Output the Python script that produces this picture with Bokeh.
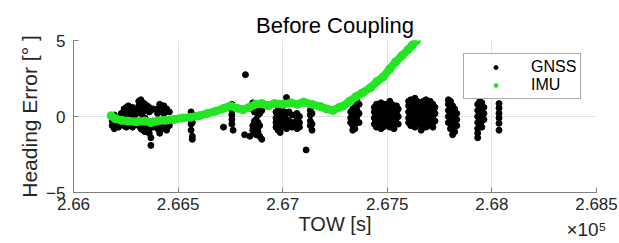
from bokeh.plotting import figure
from bokeh.models import (Range1d, FixedTicker, Legend, LegendItem, Title, ColumnDataSource)
from bokeh.embed import file_html
from bokeh.resources import INLINE

# ---------------- data ----------------
x_ticks = [2.66, 2.665, 2.67, 2.675, 2.68, 2.685]
x_tick_labels = ["2.66", "2.665", "2.67", "2.675", "2.68", "2.685"]
y_ticks = [-5, 0, 5]
y_tick_labels = ["\u22125", "0", "5"]

# IMU heading error (TOW in s, error in deg)
imu_tow = [266180, 266200, 266230, 266260, 266300, 266340, 266370, 266400, 266440,
           266480, 266520, 266560, 266600, 266640, 266680, 266720, 266750, 266780,
           266810, 266840, 266870, 266900, 266930, 266960, 267000, 267040, 267070,
           267100, 267140, 267180, 267210, 267240, 267270, 267290, 267320, 267350,
           267380, 267420, 267450, 267480, 267510, 267540, 267570, 267600, 267620,
           267640]
imu_err = [0.05, -0.15, -0.25, -0.3, -0.35, -0.3, -0.4, -0.3, -0.25,
           -0.2, -0.1, -0.05, 0.05, 0.2, 0.35, 0.55, 0.7, 0.55,
           0.45, 0.6, 0.8, 0.85, 0.7, 0.85, 0.8, 0.9, 0.8,
           0.95, 0.8, 0.65, 0.5, 0.4, 0.6, 0.7, 1.0, 1.3,
           1.55, 1.9, 2.3, 2.6, 3.1, 3.6, 4.0, 4.4, 4.7,
           5.0]

# GNSS heading error, cluster by cluster
gnss_tow = [
    # cluster A
    266185, 266185, 266195, 266195, 266195, 266205, 266205, 266215, 266215, 266228, 266228,
    # cluster B
    266242, 266242, 266242, 266242, 266252, 266252, 266252, 266252, 266252,
    266262, 266262, 266262, 266262, 266272, 266272, 266272, 266272,
    266282, 266282, 266282, 266282, 266294, 266294, 266294,
    # cluster C
    266312, 266312, 266312, 266312, 266312, 266322, 266322, 266322, 266322, 266322, 266322,
    266332, 266332, 266332, 266332, 266332, 266332, 266342, 266342, 266342, 266342, 266342,
    266352, 266352, 266352, 266352, 266362, 266362, 266362, 266362, 266362,
    266370, 266370, 266370, 266370, 266380, 266380, 266380,
    # cluster D
    266402, 266402, 266402, 266402, 266412, 266412, 266412, 266412, 266412,
    266422, 266422, 266422, 266422, 266432, 266432, 266432,
    266445, 266445, 266445, 266445, 266458, 266458, 266458,
    # cluster E
    266562, 266562, 266562, 266562, 266568, 266568, 266568, 266568,
    # cluster F and outliers
    266717, 266757, 266757, 266757, 266757, 266757, 266763, 266763,
    266822, 266818, 266843,
    # cluster G
    266857, 266857, 266857, 266857, 266865, 266865, 266865, 266865, 266865,
    266873, 266873, 266873, 266873, 266873, 266882, 266882, 266882, 266882, 266882,
    266890, 266890, 266890, 266890, 266900, 266900,
    # cluster H
    266968, 266968, 266968, 266968, 266978, 266978, 266978, 266978, 266978,
    266988, 266988, 266988, 266988, 266988, 266998, 266998, 266998, 266998,
    267008, 267008, 267008, 267008, 267018, 267018, 267018, 267018, 267018,
    267030, 267030, 267030, 267045, 267045, 267045,
    267068, 267068, 267068, 267068, 267080, 267080, 267080,
    267112, 267132, 267132, 267132, 267132, 267140, 267140, 267140,
    # cluster I0
    267325, 267325, 267325, 267335, 267335, 267335, 267335, 267335,
    267345, 267345, 267345, 267345, 267345, 267355, 267355, 267355, 267355, 267355,
    267365, 267365, 267365,
    # cluster I
    267438, 267438, 267438, 267438, 267448, 267448, 267448, 267448, 267448,
    267458, 267458, 267458, 267470, 267470, 267470, 267470, 267470, 267470,
    267480, 267480, 267480, 267480, 267480, 267490, 267490, 267490, 267490, 267490,
    267500, 267500, 267500, 267500, 267512, 267512, 267512, 267512, 267512, 267512,
    267522, 267522, 267522, 267522, 267522, 267532, 267532, 267532, 267532, 267532,
    267544, 267544, 267544, 267544, 267552, 267552, 267552,
    # cluster J
    267602, 267602, 267602, 267602, 267602, 267612, 267612, 267612, 267612, 267612, 267612,
    267622, 267622, 267622, 267622, 267622, 267632, 267632, 267632, 267632, 267632, 267632,
    267642, 267642, 267642, 267642, 267642, 267652, 267652, 267652, 267652,
    267662, 267662, 267662, 267662, 267662, 267662, 267672, 267672, 267672, 267672, 267672,
    267685, 267685, 267685, 267685, 267685, 267685, 267695, 267695, 267695, 267695, 267695,
    267705, 267705, 267705, 267705, 267705, 267718, 267718, 267718, 267718, 267718,
    267728, 267728, 267728,
    # cluster K
    267792, 267792, 267792, 267792, 267792, 267802, 267802, 267802, 267802, 267802, 267802,
    267812, 267812, 267812, 267812, 267812, 267812, 267822, 267822, 267822, 267822, 267822,
    267832, 267832, 267832,
    # cluster L
    267932, 267932, 267932, 267932, 267932, 267932, 267932, 267942, 267942, 267942, 267942, 267942,
    267952, 267952, 267952, 267952, 267952, 267962, 267962, 267962,
    # cluster M
    268034, 268034, 268034, 268034, 268034, 268034,
]
gnss_err = [
    # cluster A
    -0.6, -0.3, -0.8, -0.5, 0.1, -0.6, -0.2, -0.7, -0.4, 0.2, -0.5,
    # cluster B
    0.5, 0.2, -0.4, -0.6, 0.6, 0.3, 0.0, -0.3, -0.7,
    0.7, 0.4, -0.2, -0.5, 0.5, 0.2, -0.1, -0.6,
    0.6, 0.3, -0.4, -0.7, 0.4, 0.1, -0.5,
    # cluster C
    1.0, 0.7, 0.4, -0.3, -0.6, 1.1, 0.8, 0.5, 0.2, -0.4, -0.8,
    0.9, 0.6, 0.3, -0.2, -0.5, -0.9, 0.8, 0.5, -0.1, -0.6, -1.0,
    0.7, 0.4, -0.3, -0.7, 0.6, 0.3, -0.4, -0.8, -1.1,
    0.4, -0.6, -1.4, -1.9, 0.5, -0.3, -0.7,
    # cluster D
    0.5, 0.2, -0.5, -0.8, 0.8, 0.4, -0.3, -0.7, -1.1,
    0.6, 0.3, -0.4, -0.8, 0.7, 0.2, -0.5,
    0.5, -0.3, -0.7, -0.9, 0.3, -0.4, -0.6,
    # cluster E
    0.3, -0.2, -0.5, -0.9, 0.1, -0.4, -1.3, -1.5,
    # cluster F and outliers
    -0.7, 0.8, 0.4, 0.1, -0.2, -0.5, -0.9, 0.6,
    2.75, -1.2, -1.3,
    # cluster G
    0.9, 0.5, -0.6, -0.9, 0.7, 0.3, -0.3, -0.8, -1.1,
    0.4, -0.2, -0.5, -0.9, -1.2, 0.6, 0.1, -0.4, -0.7, -1.0,
    0.8, 0.2, -0.6, -1.3, -1.5, 0.4,
    # cluster H
    0.3, -0.1, -0.4, -0.7, 0.4, 0.0, -0.3, -0.6, -0.9,
    0.2, -0.2, -0.5, -0.8, -1.05, 0.4, 0.1, -0.3, -0.6,
    0.3, -0.1, -0.4, -0.7, 1.25, 0.2, -0.2, -0.5, -0.8,
    0.3, -0.3, -0.6, 0.1, -0.4, -0.7,
    0.2, -0.2, -0.5, -0.8, 0.0, -0.4, -0.7,
    -2.2, 0.4, 0.1, -0.3, -0.6, 0.2, -0.5, -0.9,
    # cluster I0
    0.3, -0.1, -0.4, 0.5, 0.2, -0.2, -0.6, -0.9,
    0.6, 0.3, -0.1, -0.5, -0.8, 1.0, 0.7, 0.4, 0.0, -0.3,
    0.8, 0.2, -0.4,
    # cluster I
    0.6, 0.3, -0.1, -0.5, 0.8, 0.5, 0.1, -0.3, -0.7,
    0.4, -0.2, -0.6, 0.9, 0.6, 0.2, -0.2, -0.5, -0.8,
    0.7, 0.3, -0.1, -0.4, -0.7, 0.8, 0.5, 0.1, -0.3, -0.6,
    0.6, 0.2, -0.2, -0.5, 1.0, 0.7, 0.4, 0.0, -0.4, -0.7,
    0.8, 0.5, 0.1, -0.3, -0.6, 0.6, 0.2, -0.2, -0.5, -0.8,
    0.7, 0.3, -0.1, -0.4, 0.5, 0.0, -0.5,
    # cluster J
    1.0, 0.7, 0.3, -0.1, -0.4, 1.1, 0.8, 0.4, 0.0, -0.3, -0.6,
    0.9, 0.5, 0.1, -0.2, -0.5, 1.2, 0.8, 0.4, 0.0, -0.4, -0.7,
    1.0, 0.6, 0.2, -0.2, -0.5, 0.7, 0.3, -0.1, -0.4,
    0.9, 0.5, 0.1, -0.3, -0.6, -0.9, 1.0, 0.6, 0.2, -0.2, -0.5,
    1.1, 0.7, 0.3, -0.1, -0.4, -0.7, 0.9, 0.5, 0.1, -0.3, -0.6,
    1.0, 0.6, 0.2, -0.2, -0.5, 0.8, 0.4, 0.0, -0.4, -0.7,
    0.6, 0.2, -0.3,
    # cluster K
    1.1, 0.8, 0.4, 0.0, -0.4, 1.0, 0.6, 0.2, -0.2, -0.5, -0.8,
    0.7, 0.3, -0.1, -0.5, -0.9, -1.2, 0.5, 0.1, -0.3, -0.7, -1.0,
    0.2, -0.2, -0.6,
    # cluster L
    0.8, 0.4, 0.0, -0.4, -0.8, -1.1, -1.4, 1.0, 0.6, 0.2, -0.2, -0.6,
    0.9, 0.5, 0.1, -0.3, -0.7, 0.6, 0.2, -0.2,
    # cluster M
    0.85, 0.55, 0.2, -0.1, -0.45, -0.9,
]

SCALE = 1e5
gnss_src = ColumnDataSource(dict(x=[t / SCALE for t in gnss_tow], y=gnss_err))
imu_src = ColumnDataSource(dict(x=[t / SCALE for t in imu_tow], y=imu_err))

# ---------------- figure ----------------
FONT = "Liberation Sans"
TXT = "#262626"
p = figure(width=619, height=243, output_backend="svg", toolbar_location=None,
           x_range=Range1d(2.66, 2.685), y_range=Range1d(-5, 5),
           min_border_left=73, min_border_right=23, min_border_top=40, min_border_bottom=51)
p.outline_line_color = None
p.background_fill_color = "white"
p.border_fill_color = "white"

p.title.text = "Before Coupling"
p.title.align = "center"
p.title.standoff = 5
p.title.text_font = FONT
p.title.text_font_size = "22px"
p.title.text_font_style = "normal"
p.title.text_color = "#000000"

for ax in (p.xaxis[0], p.yaxis[0]):
    ax.axis_line_color = "#808080"
    ax.major_tick_line_color = "#808080"
    ax.major_tick_in = 5
    ax.major_tick_out = 0
    ax.minor_tick_line_color = None
    ax.major_label_text_font = FONT
    ax.major_label_text_font_size = "17px"
    ax.major_label_text_color = TXT
    ax.axis_label_text_font = FONT
    ax.axis_label_text_font_size = "21px"
    ax.axis_label_text_font_style = "normal"
    ax.axis_label_text_color = TXT

p.xaxis.ticker = FixedTicker(ticks=x_ticks)
p.xaxis.major_label_overrides = {t: s for t, s in zip(x_ticks, x_tick_labels)}
p.yaxis.ticker = FixedTicker(ticks=y_ticks)
p.yaxis.major_label_overrides = {t: s for t, s in zip(y_ticks, y_tick_labels)}
p.xaxis.axis_label = "TOW [s]"
p.xaxis.axis_label_text_font_size = "20px"
p.yaxis.axis_label = "Heading Error [\u00b0 ]"
p.xaxis.major_label_standoff = 5
p.xaxis.axis_label_standoff = 0
p.yaxis.major_label_standoff = 8
p.yaxis.axis_label_standoff = 2

p.xgrid.grid_line_color = "#e3e3e3"
p.ygrid.grid_line_color = "#e3e3e3"

gnss_r = p.scatter("x", "y", source=gnss_src, size=6, color="black")
imu_line = p.line("x", "y", source=imu_src, line_width=8, line_color="#22e622")
imu_r = p.scatter("x", "y", source=imu_src, size=8, color="#22e622")

legend = Legend(items=[LegendItem(label="GNSS", renderers=[gnss_r]),
                       LegendItem(label="IMU", renderers=[imu_r])],
                location=(390, 93), margin=0, padding=4, spacing=0,
                glyph_width=55, glyph_height=10, label_height=18, label_standoff=8,
                label_width=43,
                label_text_font=FONT, label_text_font_size="16px", label_text_color="#000000",
                border_line_color="#555555", border_line_width=1,
                background_fill_alpha=1.0)
p.add_layout(legend, "center")

# axis exponent, MATLAB style, at the lower right
exp = Title(text="\u00d710\u2075", align="right", vertical_align="top", standoff=-38, offset=-10,
            text_font=FONT, text_font_size="19px", text_font_style="normal", text_color=TXT)
p.add_layout(exp, "below")

open("out.html", "w").write(file_html(p, INLINE))
